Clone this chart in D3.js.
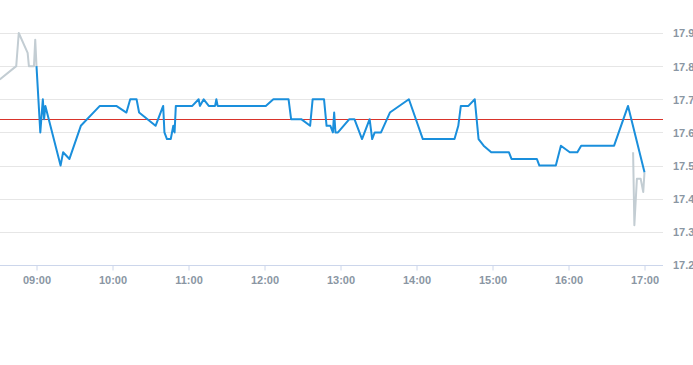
<!DOCTYPE html>
<html>
<head>
<meta charset="utf-8">
<script src="https://cdn.jsdelivr.net/npm/d3@7/dist/d3.min.js"></script>
<style>
html,body{margin:0;padding:0;background:#fff;}
svg{display:block;}
text{font-family:"Liberation Sans",Arial,sans-serif;}
</style>
</head>
<body>
<svg id="chart" width="693" height="365"></svg>
<script>
// Data
const preTimes  = ["08:31","08:44","08:46","08:53","08:54","08:58","08:59","09:00"];
const preValues = [17.76,17.80,17.90,17.84,17.80,17.80,17.88,17.80];

const mainTimes = ["09:00","09:03","09:05","09:06","09:07","09:19","09:21","09:26","09:35","09:50",
  "10:03","10:11","10:14","10:19","10:21","10:34","10:40","10:41","10:43","10:46","10:48","10:49","10:50",
  "11:03","11:08","11:09","11:12","11:16","11:21","11:22","11:23",
  "12:01","12:07","12:19","12:21","12:29","12:36","12:38","12:47","12:49","12:52","12:54","12:55","12:56","12:58",
  "13:07","13:11","13:17","13:23","13:25","13:27","13:32","13:39","13:54",
  "14:05","14:30","14:33","14:35","14:41","14:46","14:49","14:53","14:59",
  "15:13","15:15","15:35","15:37","15:50","15:54",
  "16:01","16:07","16:10","16:36","16:47","17:00"];
const mainValues = [17.80,17.60,17.70,17.64,17.68,17.50,17.54,17.52,17.62,17.68,
  17.68,17.66,17.70,17.70,17.66,17.62,17.68,17.60,17.58,17.58,17.62,17.60,17.68,
  17.68,17.70,17.68,17.70,17.68,17.68,17.70,17.68,
  17.68,17.70,17.70,17.64,17.64,17.62,17.70,17.70,17.62,17.62,17.60,17.66,17.60,17.60,
  17.64,17.64,17.58,17.64,17.58,17.60,17.60,17.66,17.70,
  17.58,17.58,17.62,17.68,17.68,17.70,17.58,17.56,17.54,
  17.54,17.52,17.52,17.50,17.50,17.56,
  17.54,17.54,17.56,17.56,17.68,17.48];

const postTimes  = ["16:51","16:52","16:54","16:57","16:59","17:00"];
const postValues = [17.54,17.32,17.46,17.46,17.42,17.48];

const refValue = 17.64;
const yTicks = [17.2,17.3,17.4,17.5,17.6,17.7,17.8,17.9];
const xTickLabels = ["09:00","10:00","11:00","12:00","13:00","14:00","15:00","16:00","17:00"];

// Setup
const parse = d3.timeParse("%H:%M");
const svg = d3.select("#chart");
const plotLeft = 0, plotRight = 663, plotTop = 33, plotBottom = 265;

const x = d3.scaleTime().domain([parse("09:00"), parse("17:00")]).range([36.5, 644.5]);
const y = d3.scaleLinear().domain([17.2, 17.9]).range([plotBottom, plotTop]);

svg.append("defs").append("clipPath").attr("id","clip")
  .append("rect").attr("x",plotLeft).attr("y",0).attr("width",plotRight-plotLeft).attr("height",plotBottom+2);

// Gridlines
svg.append("g").selectAll("line").data(yTicks.slice(1)).join("line")
  .attr("x1",plotLeft).attr("x2",plotRight)
  .attr("y1",d=>Math.round(y(d))+0.5).attr("y2",d=>Math.round(y(d))+0.5)
  .attr("stroke","#e6e6e6").attr("stroke-width",1);

// Y axis labels (right)
const yAxis = d3.axisRight(y).tickValues(yTicks).tickFormat(d3.format(".1f")).tickSize(0).tickPadding(10);
const gy = svg.append("g").attr("transform",`translate(${plotRight},0)`).call(yAxis);
gy.select(".domain").remove();
gy.selectAll("text").attr("fill","#8a96a3").style("font-size","11px").style("font-weight","bold")
  .attr("dy","0.35em");

// X axis
const xAxis = d3.axisBottom(x).tickValues(xTickLabels.map(parse)).tickFormat(d3.timeFormat("%H:%M"))
  .tickSize(5).tickSizeOuter(0).tickPadding(6);
const gx = svg.append("g").attr("transform",`translate(0,${plotBottom+0.5})`).call(xAxis);
gx.select(".domain").attr("d",`M${plotLeft},0H${plotRight}`).attr("stroke","#ccd6eb");
gx.selectAll(".tick line").attr("stroke","#ccd6eb");
gx.selectAll("text").attr("fill","#8a96a3").style("font-size","11px").style("font-weight","bold");

// Reference line
svg.append("line").attr("x1",plotLeft).attr("x2",plotRight)
  .attr("y1",Math.round(y(refValue))+0.5).attr("y2",Math.round(y(refValue))+0.5)
  .attr("shape-rendering","crispEdges")
  .attr("stroke","#d9342b").attr("stroke-width",1);

const line = d3.line().x(d=>x(d[0])).y(d=>y(d[1]));
const g = svg.append("g").attr("clip-path","url(#clip)");

g.append("path").datum(preTimes.map((t,i)=>[parse(t),preValues[i]]))
  .attr("d",line).attr("fill","none").attr("stroke","#c3cdd3").attr("stroke-width",2).attr("stroke-linejoin","round");
g.append("path").datum(postTimes.map((t,i)=>[parse(t),postValues[i]]))
  .attr("d",line).attr("fill","none").attr("stroke","#c3cdd3").attr("stroke-width",2).attr("stroke-linejoin","round");
g.append("path").datum(mainTimes.map((t,i)=>[parse(t),mainValues[i]]))
  .attr("d",line).attr("fill","none").attr("stroke","#1a8fdc").attr("stroke-width",2).attr("stroke-linejoin","round");
</script>
</body>
</html>
